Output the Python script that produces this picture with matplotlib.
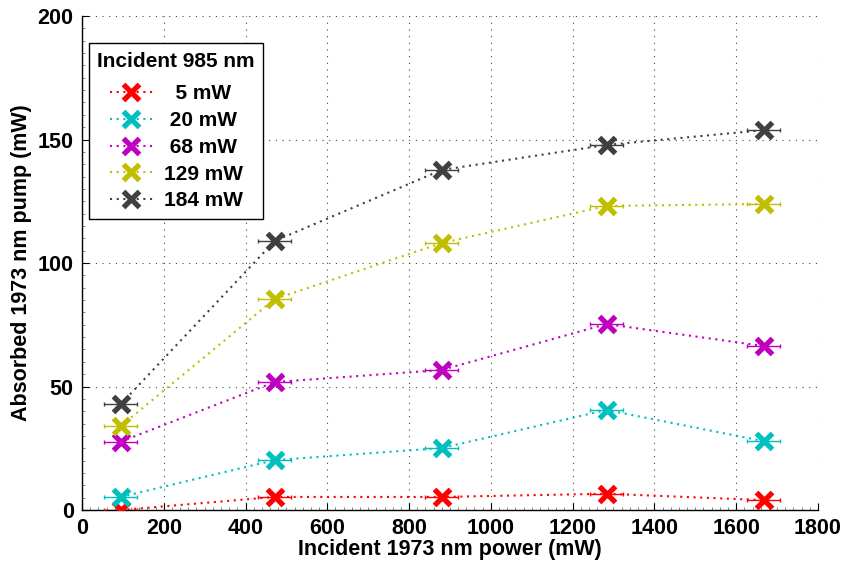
import matplotlib
matplotlib.use("Agg")
import matplotlib.pyplot as plt
from matplotlib.lines import Line2D
from matplotlib.ticker import AutoMinorLocator

plt.rcParams['font.family'] = ['Liberation Sans', 'DejaVu Sans']
plt.rcParams['font.weight'] = 'bold'

# Incident 1973 nm power (mW)
pump_1973 = [95, 471, 880, 1283, 1667]
x_err = [40, 40, 40, 40, 40]

# Absorbed 1973 nm pump (mW) for each incident 985 nm power
labels_985 = ['5 mW', '20 mW', '68 mW', '129 mW', '184 mW']
absorbed_5 = [0.0, 5.3, 5.3, 6.6, 4.0]
absorbed_20 = [5.3, 20.2, 25.1, 40.5, 27.9]
absorbed_68 = [27.7, 51.8, 56.7, 75.3, 66.4]
absorbed_129 = [34.0, 85.4, 108.1, 123.1, 123.9]
absorbed_184 = [42.9, 108.9, 137.7, 147.8, 153.8]

series = [absorbed_5, absorbed_20, absorbed_68, absorbed_129, absorbed_184]
colors = ['#ff0000', '#00bfbf', '#bf00bf', '#bfbf00', '#404040']

fig = plt.figure(figsize=(8.42, 5.66), dpi=100)
ax = fig.add_axes([0.0974, 0.0989, 0.874, 0.8728])

dotted = (0, (1.0, 2.2))
for vals, col in zip(series, colors):
    ax.plot(pump_1973, vals, linestyle=dotted, color=col, linewidth=1.5, zorder=2)
    ax.errorbar(pump_1973, vals, xerr=x_err, fmt='none', ecolor=col,
                elinewidth=1.0, capsize=1.5, zorder=3)
    ax.plot(pump_1973, vals, linestyle='none', marker='x', color=col,
            markersize=12, markeredgewidth=3.8, zorder=4)

ax.set_xlim(0, 1800)
ax.set_ylim(0, 200)
ax.set_xticks(range(0, 1801, 200))
ax.set_yticks(range(0, 201, 50))
ax.xaxis.set_minor_locator(AutoMinorLocator(10))
ax.yaxis.set_minor_locator(AutoMinorLocator(10))
ax.grid(True, which='major', linestyle=(0, (1, 5)), color='#444444', linewidth=0.8)
ax.set_axisbelow(True)

for side in ('top', 'right'):
    ax.spines[side].set_visible(False)
for side in ('left', 'bottom'):
    ax.spines[side].set_linewidth(1.0)
ax.tick_params(which='major', direction='in', length=5, width=0.8, labelsize=15.5, pad=6)
ax.tick_params(which='minor', direction='in', length=2, width=0.5, color='#555555')
for lab in ax.get_xticklabels() + ax.get_yticklabels():
    lab.set_fontweight('bold')

ax.set_xlabel('Incident 1973 nm power (mW)', fontsize=15.5, fontweight='bold', labelpad=0)
ax.set_ylabel('Absorbed 1973 nm pump (mW)', fontsize=15.5, fontweight='bold', labelpad=4)

# centre the legend entries by padding shorter labels with half-digit spaces
longest = max(len(s) for s in labels_985)
legend_labels = [' ' * (longest - len(s)) + s for s in labels_985]

handles = [Line2D([0], [0], color=c, linestyle=dotted, linewidth=1.5, marker='x',
                  markersize=12, markeredgewidth=3.8) for c in colors]
leg = ax.legend(handles, legend_labels, title='Incident 985 nm', loc='upper left',
                bbox_to_anchor=(0.0095, 0.945), borderaxespad=0, fontsize=15,
                title_fontsize=15, frameon=True, fancybox=False, edgecolor='black',
                framealpha=1, handlelength=2.1, handletextpad=0.5, borderpad=0.4,
                labelspacing=0.37)
# a little more room between the title and the entries
leg._legend_box.sep = 10.0
leg.get_frame().set_linewidth(1.0)
leg.get_title().set_fontweight('bold')
for t in leg.get_texts():
    t.set_fontweight('bold')

fig.savefig('out.png', dpi=100)
